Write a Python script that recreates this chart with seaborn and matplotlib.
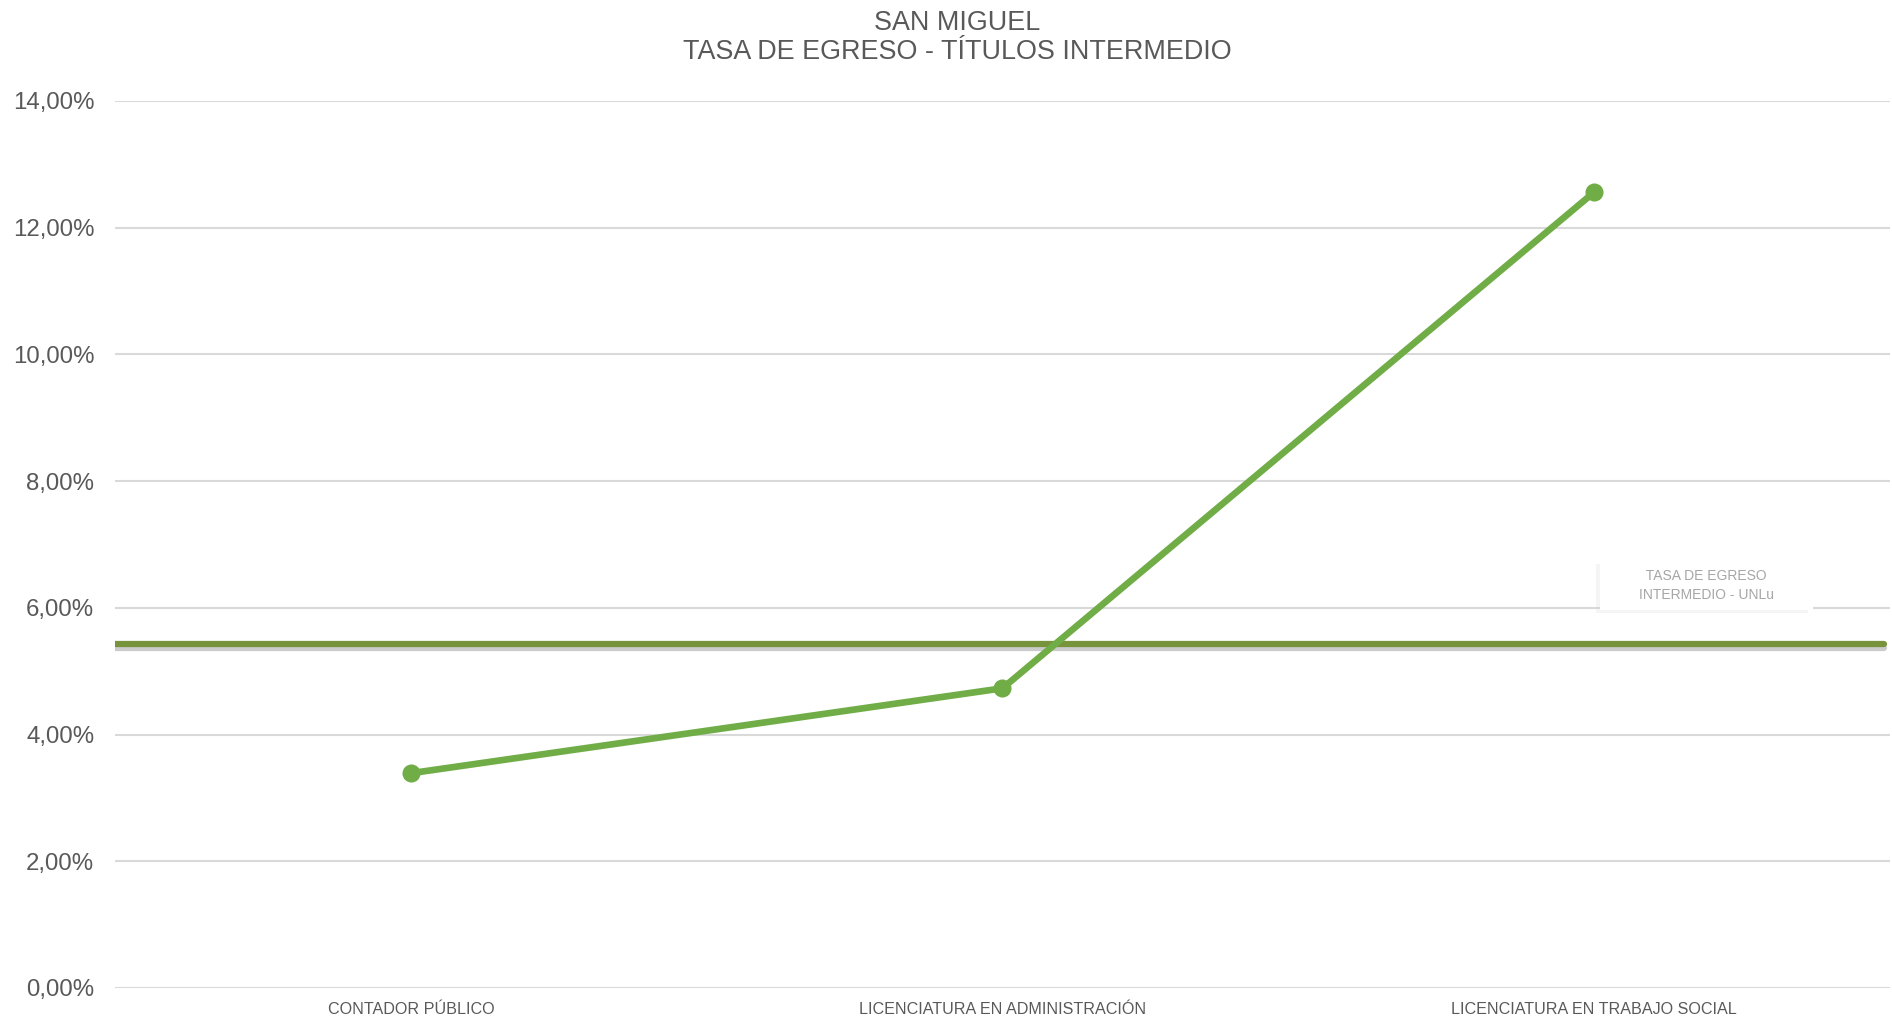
import matplotlib
matplotlib.use("Agg")
import matplotlib.pyplot as plt
import matplotlib.patheffects as pe
from matplotlib.ticker import FuncFormatter
import pandas as pd
import seaborn as sns

carreras = ["CONTADOR PÚBLICO", "LICENCIATURA EN ADMINISTRACIÓN", "LICENCIATURA EN TRABAJO SOCIAL"]
tasa_egreso = [0.0339, 0.0473, 0.1256]
tasa_unlu = 0.0543
y_ticks = [0.0, 0.02, 0.04, 0.06, 0.08, 0.10, 0.12, 0.14]

sns.set_theme(style="white")
plt.rcParams["font.family"] = ["Liberation Sans", "DejaVu Sans"]

gris = "#595959"
df = pd.DataFrame({"carrera": carreras, "tasa": tasa_egreso})
df["pos"] = range(len(df))

fig = plt.figure(figsize=(18.92, 10.18), dpi=100)
ax = fig.add_axes([0.0608, 0.0295, 0.9381, 0.8713])

for y in y_ticks:
    ax.axhline(y, color="#D9D9D9", lw=1.5, zorder=0)

# linea de referencia UNLu con sombra
ax.axhline(tasa_unlu, xmin=-0.002, xmax=0.9965, color="#77933C", lw=4.5, zorder=2,
           path_effects=[pe.SimpleLineShadow(offset=(0, -3), shadow_color="#BFBFBF", alpha=0.8),
                         pe.Normal()])

sns.lineplot(data=df, x="pos", y="tasa", ax=ax, color="#70AD47", lw=4.8,
             marker="o", markersize=13, markeredgewidth=0, zorder=3)

etiqueta = ax.text(2.19, 0.0635, "        TASA DE EGRESO        \n        INTERMEDIO - UNLu        ",
                   ha="center", va="center", fontsize=10, color="#A6A6A6",
                   linespacing=1.5, zorder=4,
                   bbox=dict(boxstyle="square,pad=0.55", fc="white", ec="none"))
etiqueta.get_bbox_patch().set_path_effects(
    [pe.SimplePatchShadow(offset=(-3, -2), shadow_rgbFace="#D0D0D0", alpha=0.2), pe.Normal()])

ax.set_xlim(-0.5, 2.5)
ax.set_ylim(0, 0.14)
ax.set_xticks(df["pos"])
ax.set_xticklabels(carreras, fontsize=11.6, color=gris)
ax.set_yticks(y_ticks)
ax.yaxis.set_major_formatter(FuncFormatter(lambda v, p: f"{v*100:.2f}%".replace(".", ",")))
ax.tick_params(axis="y", length=0, pad=15, labelsize=17.3, labelcolor=gris)
ax.tick_params(axis="x", length=0, pad=10)
ax.set_xlabel("")
ax.set_ylabel("")
for s in ax.spines.values():
    s.set_visible(False)

fig.suptitle("SAN MIGUEL\nTASA DE EGRESO - TÍTULOS INTERMEDIO", x=0.506, y=0.99,
             fontsize=19.4, color=gris, va="top", linespacing=1.15)

fig.savefig("out.png", dpi=100)
